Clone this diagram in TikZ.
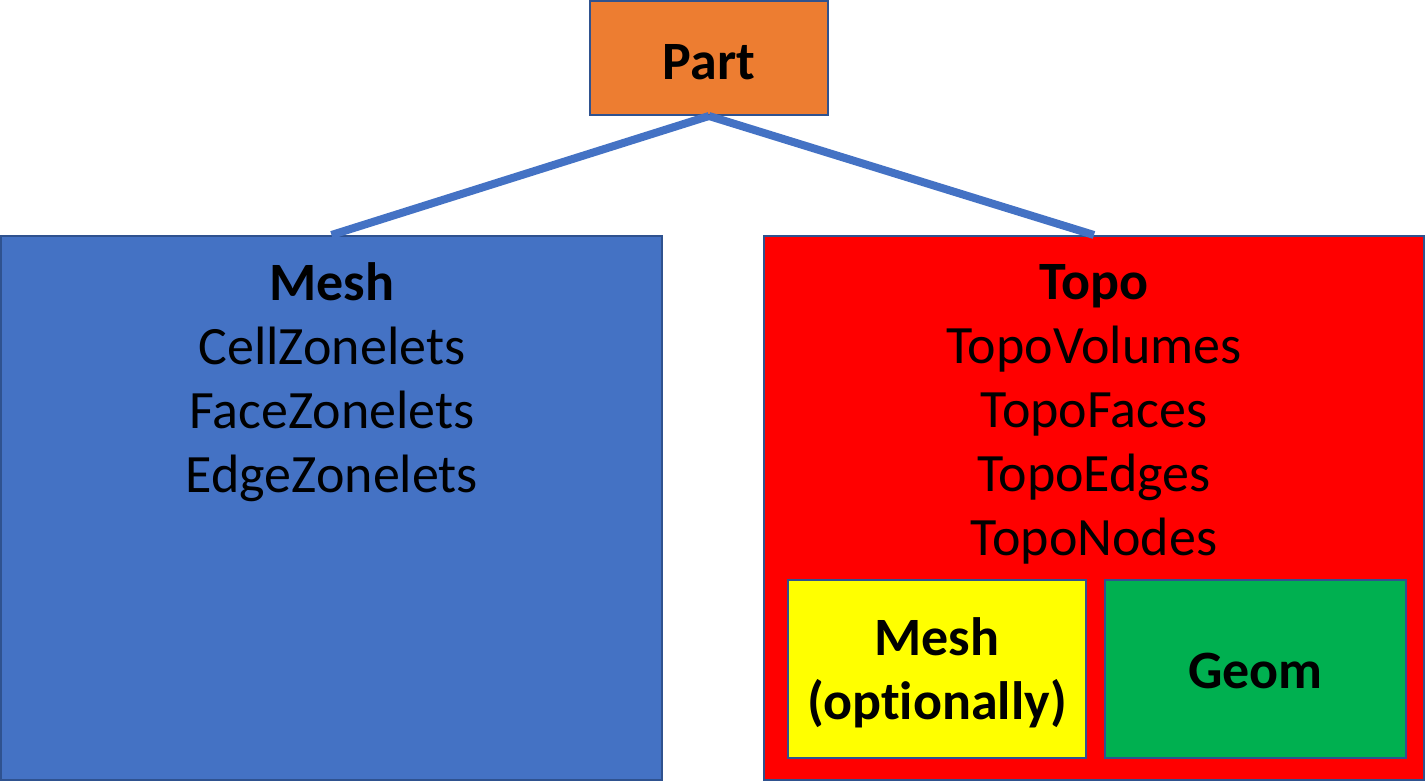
\documentclass[tikz,border=0pt]{standalone}
\usepackage[RGB]{xcolor}
\usepackage{fontspec}
\setmainfont[Ligatures=NoCommon]{Carlito}
\usepackage{tikz}
\definecolor{partfill}{RGB}{237,125,49}
\definecolor{meshfill}{RGB}{68,114,196}
\definecolor{topofill}{RGB}{255,0,0}
\definecolor{optfill}{RGB}{255,255,0}
\definecolor{geomfill}{RGB}{0,176,80}
\definecolor{edge}{RGB}{47,82,143}
\newcommand{\bigtext}{\fontsize{27}{32}\selectfont}
\tikzset{
  box/.style={draw=edge, line width=1pt, inner sep=0pt, minimum width=#1},
  label/.style={align=center, font=\bigtext, text=black},
  link/.style={draw=meshfill, line width=4pt}
}
\begin{document}
\begin{tikzpicture}[x=0.5pt, y=-0.5pt]
\useasboundingbox (0,0) rectangle (1426,782);
% boxes
\node[box=119pt, fill=partfill, minimum height=57pt] (part) at (709,58) {};
\node[box=330.5pt, fill=meshfill, minimum height=272pt] (mesh) at (331.5,508) {};
\node[box=330pt, fill=topofill, minimum height=272pt] (topo) at (1094,508) {};
\node[box=149pt, fill=optfill, minimum height=89pt] (opt) at (937,669) {};
\node[box=150.5pt, fill=geomfill, minimum height=89pt] (geom) at (1255.5,669) {};
% connectors
\draw[link] (part.south) -- (mesh.north);
\draw[link] (part.south) -- (topo.north);
% texts
\node[label] (partname) at (709,62) {\textbf{Part}};
\node[label] (meshlist) at (332,382) {\textbf{Mesh}\\CellZonelets\\FaceZonelets\\EdgeZonelets};
\node[label] (topolist) at (1094,414) {\textbf{Topo}\\TopoVolumes\\TopoFaces\\TopoEdges\\TopoNodes};
\node[label] (optname) at (937,673) {\textbf{Mesh}\\\textbf{(optionally)}};
\node[label] (geomname) at (1255.5,671) {\textbf{Geom}};
\end{tikzpicture}
\end{document}
